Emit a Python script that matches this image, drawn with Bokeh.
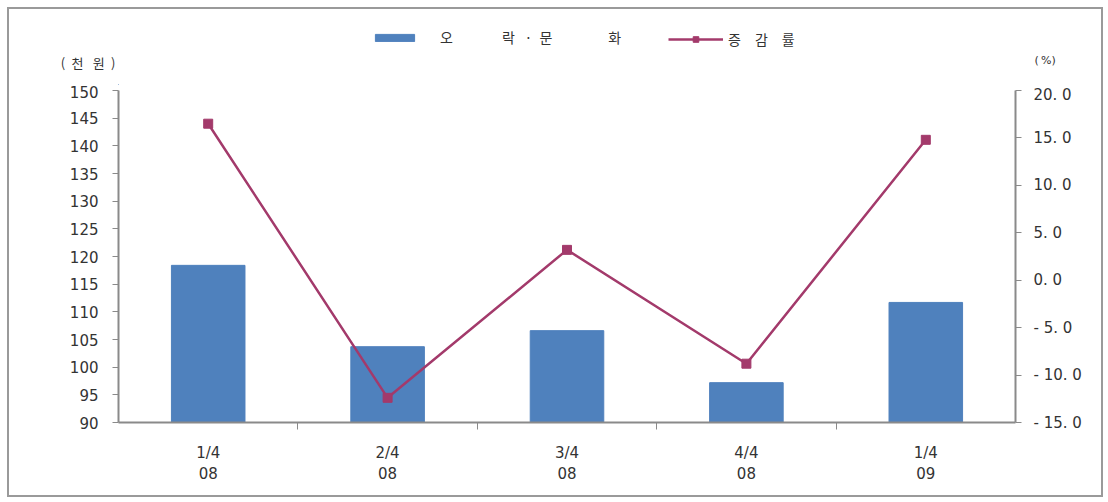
from bokeh.plotting import figure
from bokeh.layouts import column
from bokeh.models import (Range1d, LinearAxis, FixedTicker, Legend, LegendItem,
                          ColumnDataSource)
from bokeh.embed import file_html
from bokeh.resources import INLINE

categories = ["1/4\n08", "2/4\n08", "3/4\n08", "4/4\n08", "1/4\n09"]
spending = [118.4, 103.7, 106.6, 97.2, 111.7]
growth = [16.5, -12.4, 3.2, -8.8, 14.8]
left_ticks = [90, 95, 100, 105, 110, 115, 120, 125, 130, 135, 140, 145, 150]
right_ticks = [-15, -10, -5, 0, 5, 10, 15, 20]
bar_name = "오\u3000\u3000\u3000\u2002락\u2002\u2009·\u2002문\u3000\u3000\u3000\u3000화"
line_name = "증\u2002\u2002감\u2002\u2002률"
left_unit = "(\u2002천\u2002\u2009원\u2002)"
right_unit = "(\u2009%)"

xs = [i + 0.5 for i in range(len(categories))]
src = ColumnDataSource(dict(x=xs, spend=spending, growth=growth))

NUMFONT = "DejaVu Sans"
KFONT = "Noto Sans CJK KR"
AXC = "#8a8a8a"
TXT = "#333333"
BAR = "#4f81bd"
LINE = "#a33a6b"

W = 1092
HH = 76


def plain_legend(items, loc, **kw):
    base = dict(location=loc, label_text_font=KFONT, label_text_font_size="14px",
                label_text_color=TXT, border_line_color=None, background_fill_alpha=0,
                padding=0, margin=0)
    base.update(kw)
    return Legend(items=items, **base)


def unit_axis(label, ypos, font, size, standoff):
    ax = LinearAxis(ticker=FixedTicker(ticks=[ypos], minor_ticks=[]))
    ax.major_label_overrides = {ypos: label}
    ax.axis_line_color = None
    ax.major_tick_line_color = None
    ax.minor_tick_line_color = None
    ax.major_tick_out = 0
    ax.major_tick_in = 0
    ax.major_label_standoff = standoff
    ax.major_label_text_font = font
    ax.major_label_text_font_size = size
    ax.major_label_text_color = TXT
    return ax


# ---- header (legend + unit labels) ----
h = figure(width=W, height=HH, output_backend="svg", toolbar_location=None,
           x_range=Range1d(0, 1), y_range=Range1d(0, HH), min_border=0,
           x_axis_type=None, y_axis_type=None)
h.outline_line_color = None
h.xgrid.visible = False
h.ygrid.visible = False
stub_bar = h.vbar(x=[-100], top=[1], width=1, color=BAR)
stub_line = h.line(x=[-100, -90], y=[1, 1], line_color=LINE, line_width=2.5)
stub_mk = h.scatter(x=[-100], y=[1], marker="square", size=9, color=LINE)

h.add_layout(plain_legend([LegendItem(label=bar_name, renderers=[stub_bar])], (252, 38),
                          glyph_width=49, glyph_height=9, label_standoff=21), "center")
h.add_layout(plain_legend([LegendItem(label=line_name, renderers=[stub_line, stub_mk])], (550, 36),
                          glyph_width=55, glyph_height=14, label_standoff=5), "center")
h.add_layout(unit_axis(left_unit, 23, KFONT, "13px", 3), "left")
h.add_layout(unit_axis(right_unit, 25, NUMFONT, "11px", 19), "right")

# ---- main chart ----
p = figure(width=W, height=410, output_backend="svg", toolbar_location=None,
           x_range=Range1d(0, 5), y_range=Range1d(90, 150),
           min_border_left=109, min_border_right=86, min_border_top=5, min_border_bottom=73)
p.outline_line_color = None
p.xgrid.visible = False
p.ygrid.visible = False
p.extra_y_ranges = {"pct": Range1d(-15, 20)}

p.vbar(x="x", top="spend", bottom=90, width=0.41, color=BAR, source=src)
p.line(x="x", y="growth", line_color=LINE, line_width=2.5, y_range_name="pct", source=src)
p.scatter(x="x", y="growth", marker="square", size=9, color=LINE, y_range_name="pct", source=src)

xa = p.xaxis[0]
xa.ticker = FixedTicker(ticks=xs, minor_ticks=[1, 2, 3, 4])
xa.major_label_overrides = {x: c for x, c in zip(xs, categories)}
xa.major_tick_out = 0
xa.major_tick_in = 0
xa.minor_tick_out = 7
xa.minor_tick_in = 0
xa.minor_tick_line_color = AXC
xa.axis_line_color = AXC
xa.axis_line_width = 2
xa.major_label_text_font = NUMFONT
xa.major_label_text_font_size = "15px"
xa.major_label_text_color = TXT
xa.major_label_standoff = 14

ya = p.yaxis[0]
ya.ticker = FixedTicker(ticks=left_ticks, minor_ticks=[])
ya.major_tick_out = 6
ya.major_tick_in = 0
ya.major_tick_line_color = AXC
ya.axis_line_color = AXC
ya.axis_line_width = 2
ya.major_label_text_font = NUMFONT
ya.major_label_text_font_size = "15px"
ya.major_label_text_color = TXT
ya.major_label_standoff = 14

ra = LinearAxis(y_range_name="pct", ticker=FixedTicker(ticks=right_ticks, minor_ticks=[]))
ra.major_label_overrides = {t: ("%.1f" % t).replace(".", ". ").replace("-", "- ") for t in right_ticks}
ra.major_tick_out = 6
ra.major_tick_in = 0
ra.major_tick_line_color = AXC
ra.axis_line_color = AXC
ra.axis_line_width = 2
ra.major_label_text_font = NUMFONT
ra.major_label_text_font_size = "15px"
ra.major_label_text_color = TXT
ra.major_label_standoff = 12
p.add_layout(ra, "right")

layout = column(h, p, spacing=0)
layout.styles = {"margin": "7px 0 0 7px", "border": "2px solid #9a9a9a"}

open("out.html", "w").write(file_html(layout, INLINE))
